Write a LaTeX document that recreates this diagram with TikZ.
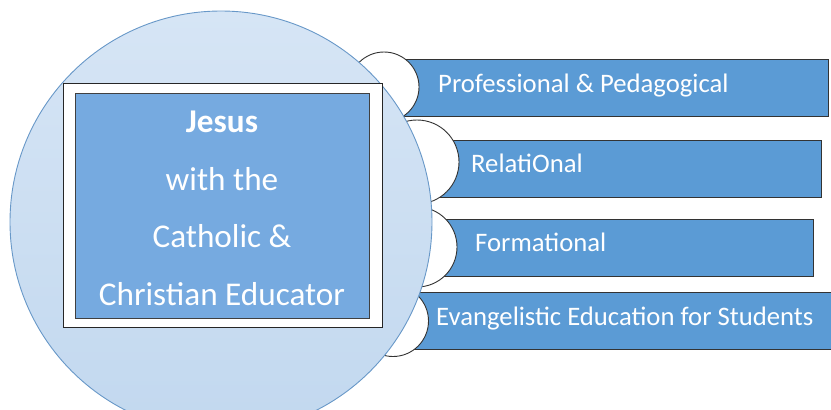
\documentclass[tikz,border=0pt]{standalone}
\usepackage{fontspec}
\setmainfont{Carlito}
\usepackage{tikz}
\usetikzlibrary{positioning}
\definecolor{barblue}{RGB}{91,155,213}
\definecolor{coreblue}{RGB}{118,170,224}
\definecolor{ringblue}{RGB}{104,152,200}
\definecolor{paletop}{RGB}{214,229,245}
\definecolor{palebot}{RGB}{194,216,239}
\tikzstyle{bar} = [rectangle, draw=black!80, fill=barblue,
    line width=0.9pt, anchor=north west, inner sep=0pt, minimum height=57pt]
\tikzstyle{bump} = [circle, draw=black!80, fill=white,
    line width=0.9pt, inner sep=0pt]
\tikzstyle{bartext} = [anchor=base west, text=white, inner sep=0pt,
    font=\fontsize{26.7}{30}\selectfont]

\begin{document}
\begin{tikzpicture}[x=1pt,y=-1pt]
\useasboundingbox (0,0) rectangle (831,410);
\begin{scope}
    \clip (0,0) rectangle (831,410);
    %bars
    \node[bar, minimum width=428pt] (bar1) at (400,59) {};
    \node[bar, minimum width=421pt] (bar2) at (400,139.5) {};
    \node[bar, minimum width=413pt] (bar3) at (400,219) {};
    \node[bar, minimum width=432pt] (bar4) at (400,292) {};
    %bumps
    \node[bump, minimum size=70pt] (b1) at (384,87) {};
    \node[bump, minimum size=84pt] (b2) at (417,162) {};
    \node[bump, minimum size=80pt] (b3) at (417,247) {};
    \node[bump, minimum size=71pt] (b4) at (393,321) {};
    %hub
    \node[circle, draw=ringblue, line width=0.9pt, top color=paletop,
        bottom color=palebot, minimum size=422pt, inner sep=0pt] (hub) at (221,222) {};
    \node[rectangle, draw=black!85, fill=white, line width=0.9pt,
        minimum width=319pt, minimum height=244pt] (frame) at (222.5,205) {};
    \node[rectangle, draw=black!75, fill=coreblue, line width=0.9pt,
        minimum width=294pt, minimum height=225pt] (core) at (222,205.5) {};
    \node[align=center, text=white, inner sep=0pt,
        font=\fontsize{33.2}{57.7}\selectfont] (title) at (222,208.5)
        {\textbf{Jesus}\\with the\\Catholic \&\\Christian Educator};
    %labels
    \node[bartext] (t1) at (438,92) {Professional \& Pedagogical};
    \node[bartext] (t2) at (471,172) {RelatiOnal};
    \node[bartext] (t3) at (475,251) {Formational};
    \node[bartext] (t4) at (436,325) {Evangelistic Education for Students};
\end{scope}
\end{tikzpicture}
\end{document}
